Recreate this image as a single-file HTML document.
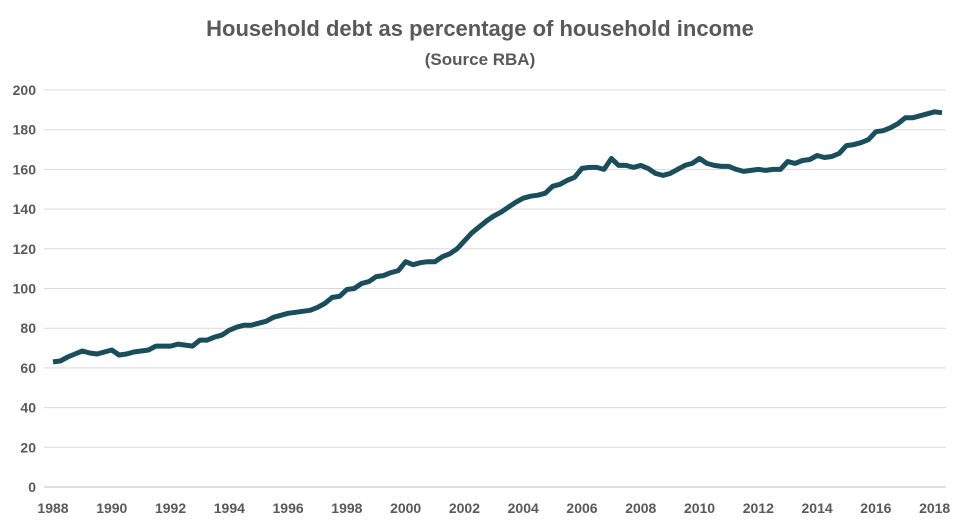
<!DOCTYPE html>
<html><head><meta charset="utf-8"><style>
body{margin:0;background:#fff;}
svg{display:block;font-family:"Liberation Sans",sans-serif;}
</style></head><body>
<svg id="chart" width="960" height="526">
<text x="480" y="36" text-anchor="middle" font-size="22" font-weight="bold" fill="#595959">Household debt as percentage of household income</text>
<text x="480" y="65" text-anchor="middle" font-size="17" font-weight="bold" fill="#595959">(Source RBA)</text>
<g id="grid"></g><g id="yticks"></g><g id="xticks"></g><g id="series"></g>
</svg>
<script>
const yTicks=[0,20,40,60,80,100,120,140,160,180,200];
const xTickLabels=[1988,1990,1992,1994,1996,1998,2000,2002,2004,2006,2008,2010,2012,2014,2016,2018];
const startYear=1988;
const debtValues=[63,63.5,65.5,67,68.5,67.5,67,68,69,66.5,67,68,68.5,69,71,71,71,72,71.5,71,74,74,75.5,76.5,79,80.5,81.5,81.5,82.5,83.5,85.5,86.5,87.5,88,88.5,89,90.5,92.5,95.5,96,99.5,100,102.5,103.5,106,106.5,108,109,113.5,112,113,113.5,113.5,116,117.5,120,124,128,131,134,136.5,138.5,141,143.5,145.5,146.5,147,148,151.5,152.5,154.5,156,160.5,161,161,160,165.5,162,162,161,162,160.5,158,157,158,160,162,163,165.5,163,162,161.5,161.5,160,159,159.5,160,159.5,160,160,164,163,164.5,165,167,166,166.5,168,172,172.5,173.5,175,179,179.5,181,183,186,186,187,188,189,188.5];
const NS="http://www.w3.org/2000/svg";
const plotL=44,plotR=946,y0=487,y200=90;
const yScale=v=>y0-(v/200)*(y0-y200);
const step=(942-53)/121;
const xScale=i=>53+i*step;
const xYear=yr=>53+(yr-startYear)*4*step;
const grid=document.getElementById('grid'),yt=document.getElementById('yticks'),xt=document.getElementById('xticks'),ser=document.getElementById('series');
yTicks.forEach(v=>{
 const l=document.createElementNS(NS,'line');
 l.setAttribute('x1',plotL);l.setAttribute('x2',plotR);l.setAttribute('y1',yScale(v));l.setAttribute('y2',yScale(v));
 l.setAttribute('stroke',v===0?'#bfbfbf':'#d9d9d9');l.setAttribute('stroke-width','1');
 
 
 grid.appendChild(l);
 const t=document.createElementNS(NS,'text');
 t.setAttribute('x',36);t.setAttribute('y',yScale(v)+5);t.setAttribute('text-anchor','end');
 t.setAttribute('font-size','14');t.setAttribute('font-weight','bold');t.setAttribute('fill','#595959');t.textContent=v;
 
 
 yt.appendChild(t);
});
xTickLabels.forEach(yr=>{
 const t=document.createElementNS(NS,'text');
 t.setAttribute('x',xYear(yr));t.setAttribute('y',513);t.setAttribute('text-anchor','middle');
 t.setAttribute('font-size','14');t.setAttribute('font-weight','bold');t.setAttribute('fill','#595959');t.textContent=yr;
 
 
 xt.appendChild(t);
});
const pts=debtValues.map((v,i)=>xScale(i).toFixed(1)+','+yScale(v).toFixed(1)).join(' ');
const p=document.createElementNS(NS,'polyline');
p.setAttribute('points',pts);p.setAttribute('fill','none');p.setAttribute('stroke','#1a4e5c');
p.setAttribute('stroke-width','5');p.setAttribute('stroke-linejoin','round');


ser.appendChild(p);
</script>
</body></html>
